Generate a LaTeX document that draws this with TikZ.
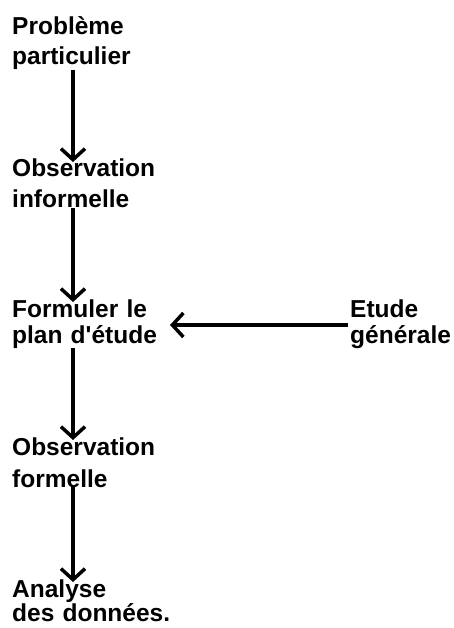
\documentclass[tikz,border=0pt]{standalone}
\usepackage{fontspec}
\setmainfont{Liberation Sans}
\usetikzlibrary{positioning,arrows.meta}

\begin{document}
\begin{tikzpicture}[>={Straight Barb[length=11pt,width=24pt]},
    step node/.style={inner sep=0pt,anchor=base west,text width=175pt,align=left,font=\fontsize{24.5}{#1}\selectfont\bfseries},
    step node/.default=30,
    flow/.style={->,line width=3.5pt,shorten >=-3pt}]

    \useasboundingbox (0,0) rectangle (454pt,-628pt);

    \node[step node=30] (prob) at (12pt,-35pt) {Problème\\particulier};
    \node[step node=31] (obsi) at ([yshift=-142pt]prob.base west) {Observation\\informelle};
    \node[step node=26] (plan) at ([yshift=-140pt]obsi.base west) {Formuler le\\plan d\textquotesingle étude};
    \node[step node=32] (obsf) at ([yshift=-138pt]plan.base west) {Observation\\formelle};
    \node[step node=23] (anal) at ([yshift=-142pt]obsf.base west) {Analyse\\des données.};
    \node[step node=26, text width=100pt] (gen) at ([xshift=338pt]plan.base west) {Etude\\générale};

    \draw[flow] ([xshift=61pt]prob.south west) -- ([xshift=61pt]obsi.north west);
    \draw[flow] ([xshift=61pt]obsi.south west) -- ([xshift=61pt]plan.north west);
    \draw[flow] ([xshift=61pt]plan.south west) -- ([xshift=61pt]obsf.north west);
    \draw[flow] ([xshift=61pt]obsf.south west) -- ([xshift=61pt]anal.north west);
    \draw[flow, shorten >=0pt] ([xshift=-2pt,yshift=-8pt]gen.base west) -- ([xshift=158pt,yshift=-8pt]plan.base west);
\end{tikzpicture}
\end{document}
